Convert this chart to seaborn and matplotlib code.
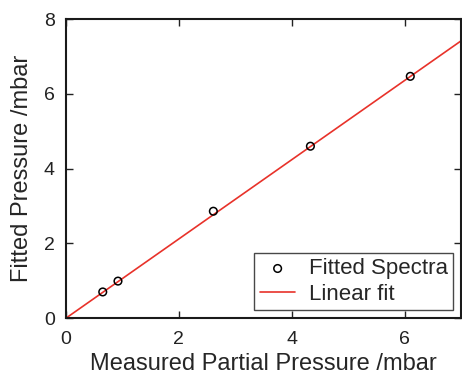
import matplotlib
matplotlib.use("Agg")
import matplotlib.pyplot as plt
import seaborn as sns
import numpy as np

# measured vs fitted partial pressure (mbar)
measured = [0.65, 0.92, 2.61, 4.33, 6.10]
fitted = [0.70, 0.99, 2.86, 4.60, 6.47]

# linear fit endpoints
fit_x = [0.0, 7.0]
fit_y = [0.0, 7.42]

sns.set_style("ticks")
plt.rcParams['font.family'] = ['Liberation Sans', 'DejaVu Sans']

fig = plt.figure(figsize=(4.62, 3.76), dpi=100)
ax = fig.add_axes([0.143, 0.154, 0.855, 0.795])

sns.lineplot(x=fit_x, y=fit_y, ax=ax, color='#e8322a', linewidth=1.2,
             label='Linear fit', zorder=2)
sns.scatterplot(x=measured, y=fitted, ax=ax, marker='o', s=30,
                facecolor='none', edgecolor='black', linewidth=1.1,
                label='Fitted Spectra', zorder=3)

ax.set_xlim(0, 7)
ax.set_ylim(0, 8)
ax.set_xticks([0, 2, 4, 6])
ax.set_yticks([0, 2, 4, 6, 8])
ax.tick_params(direction='in', length=5, width=1, top=True, right=True,
               labelsize=14, colors='#222222')
ax.tick_params(axis='x', pad=9)
ax.tick_params(axis='y', pad=8)
for s in ax.spines.values():
    s.set_linewidth(1.5)
    s.set_color('#1a1a1a')

ax.set_xlabel('Measured Partial Pressure /mbar', fontsize=17, labelpad=4)
ax.set_ylabel('Fitted Pressure /mbar', fontsize=17, labelpad=8)

handles, labels = ax.get_legend_handles_labels()
order = [labels.index('Fitted Spectra'), labels.index('Linear fit')]
leg = ax.legend([handles[i] for i in order], [labels[i] for i in order],
                loc='lower right', fontsize=16, frameon=True, fancybox=False,
                edgecolor='#1a1a1a', borderpad=0.25, handlelength=1.6,
                handletextpad=0.6, labelspacing=0.2, borderaxespad=0.35)
leg.get_frame().set_linewidth(1.0)

fig.savefig('out.png', dpi=100)
